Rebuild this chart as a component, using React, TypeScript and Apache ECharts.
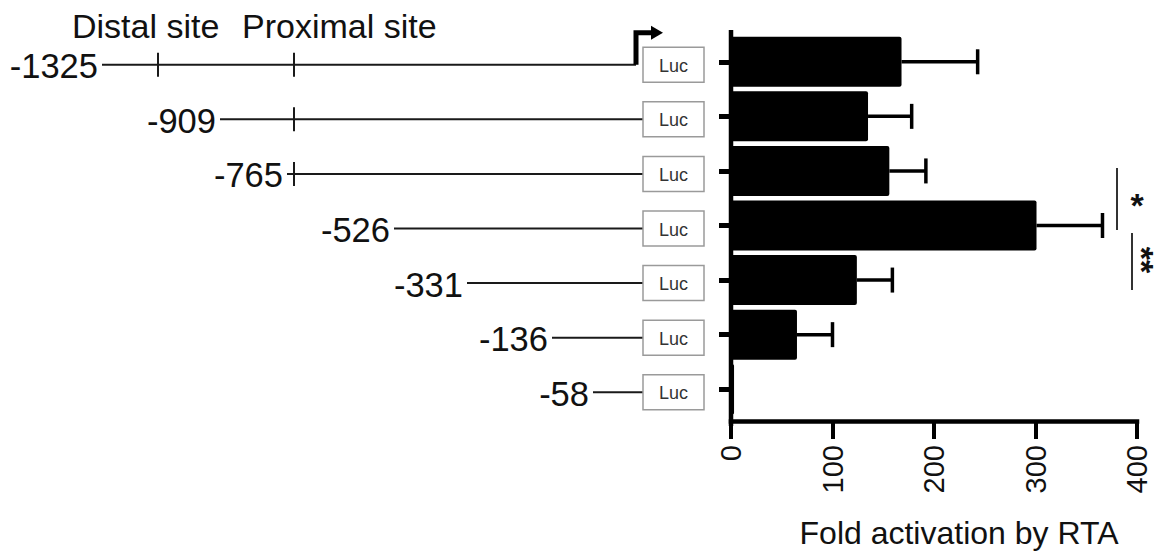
import React, { useEffect, useRef } from "react";
import * as echarts from "echarts";

// ---- data ----
const constructs = ["-1325", "-909", "-765", "-526", "-331", "-136", "-58"];
const foldActivation = [168, 135, 156, 301, 124, 65, 3];
const foldError = [75, 43, 36, 65, 35, 35, 0];
const xTickValues = [0, 100, 200, 300, 400];
const hasDistalSite = [true, false, false, false, false, false, false];
const hasProximalSite = [true, true, true, false, false, false, false];
const siteLabels = ["Distal site", "Proximal site"];
const reporterLabel = "Luc";
const axisTitle = "Fold activation by RTA";
const sigMarks = ["*", "**"];

// ---- layout (not data) ----
const FONT = '"Liberation Sans", Arial, Helvetica, sans-serif';
const AXIS_X0 = 731;
const AXIS_X1 = 1137;
const GRID_TOP = 34.5;
const GRID_H = 385;
const lineStartX = [102, 220, 287, 394, 467, 552, 593];
const LUC_X = 643;
const LUC_W = 61;
const LUC_H = 35;
const DISTAL_X = 158;
const PROXIMAL_X = 294;
const ROW_DY = 3;

export default function App() {
  const ref = useRef<HTMLDivElement>(null);

  useEffect(() => {
    document.body.style.margin = "0";
    const chart = echarts.init(ref.current!, null, { renderer: "svg" });

    const diagramRender = (params: any, api: any) => {
      const i = params.dataIndex;
      const y = api.coord([0, i])[1] + ROW_DY;
      const x0 = lineStartX[i];
      const children: any[] = [];
      children.push({
        type: "text",
        x: x0 - 4,
        y: y + 1.5,
        style: {
          text: constructs[i],
          fontSize: 34.5,
          fontFamily: FONT,
          fill: "#111",
          align: "right",
          verticalAlign: "middle",
        },
      });
      children.push({
        type: "line",
        shape: { x1: x0, y1: y, x2: i === 0 ? 636 : LUC_X, y2: y },
        style: { stroke: "#1a1a1a", lineWidth: 2 },
      });
      if (hasDistalSite[i]) {
        children.push({
          type: "line",
          shape: { x1: DISTAL_X, y1: y - 12, x2: DISTAL_X, y2: y + 12 },
          style: { stroke: "#1a1a1a", lineWidth: 2 },
        });
      }
      if (hasProximalSite[i]) {
        children.push({
          type: "line",
          shape: { x1: PROXIMAL_X, y1: y - 12, x2: PROXIMAL_X, y2: y + 12 },
          style: { stroke: "#1a1a1a", lineWidth: 2 },
        });
      }
      children.push({
        type: "rect",
        shape: { x: LUC_X, y: y - LUC_H / 2, width: LUC_W, height: LUC_H },
        style: { fill: "#fff", stroke: "#9a9a9a", lineWidth: 1.5 },
      });
      children.push({
        type: "text",
        x: LUC_X + LUC_W / 2,
        y: y + 1,
        style: {
          text: reporterLabel,
          fontSize: 18,
          fontFamily: FONT,
          fill: "#333",
          align: "center",
          verticalAlign: "middle",
        },
      });
      if (i === 0) {
        children.push({
          type: "polyline",
          shape: { points: [[636, y], [636, y - 32], [654, y - 32]] },
          style: { stroke: "#000", lineWidth: 5, fill: null },
        });
        children.push({
          type: "polygon",
          shape: { points: [[651, y - 39], [663, y - 32], [651, y - 25]] },
          style: { fill: "#000" },
        });
      }
      return { type: "group", children };
    };

    const errorRender = (params: any, api: any) => {
      const v = api.value(0);
      const i = api.value(1);
      const e = api.value(2);
      if (!e) return { type: "group", children: [] };
      const p0 = api.coord([v, i]);
      const p1 = api.coord([v + e, i]);
      return {
        type: "group",
        children: [
          {
            type: "line",
            shape: { x1: p0[0], y1: p0[1], x2: p1[0], y2: p1[1] },
            style: { stroke: "#000", lineWidth: 3.5 },
          },
          {
            type: "line",
            shape: { x1: p1[0], y1: p1[1] - 12.5, x2: p1[0], y2: p1[1] + 12.5 },
            style: { stroke: "#000", lineWidth: 3.5 },
          },
        ],
      };
    };

    const siteText = (x: number, text: string) => ({
      type: "text",
      x,
      y: 26,
      style: {
        text,
        fontSize: 34,
        fontFamily: FONT,
        fill: "#111",
        align: "left",
        verticalAlign: "middle",
      },
    });

    const starText = (x: number, y: number, text: string, rotation: number) => ({
      type: "text",
      x,
      y,
      rotation,
      style: {
        text,
        fontSize: 34,
        fontWeight: "bold",
        fontFamily: FONT,
        fill: "#111",
        align: "center",
        verticalAlign: "middle",
      },
    });

    const option: any = {
      animation: false,
      backgroundColor: "#fff",
      grid: {
        left: AXIS_X0,
        top: GRID_TOP,
        width: AXIS_X1 - AXIS_X0,
        height: GRID_H,
        containLabel: false,
      },
      xAxis: {
        type: "value",
        min: xTickValues[0],
        max: xTickValues[xTickValues.length - 1],
        interval: xTickValues[1] - xTickValues[0],
        offset: 4.5,
        axisLine: { show: true, lineStyle: { color: "#000", width: 4.5, cap: "square" } },
        axisTick: { show: true, length: 18, lineStyle: { color: "#000", width: 4 } },
        axisLabel: {
          rotate: 90,
          margin: 24,
          fontSize: 29,
          color: "#111",
          fontFamily: FONT,
        },
        splitLine: { show: false },
        name: axisTitle,
        nameLocation: "middle",
        nameGap: 96,
        nameTextStyle: {
          fontSize: 32,
          color: "#111",
          fontFamily: FONT,
          padding: [0, 0, 0, 50],
        },
      },
      yAxis: {
        type: "category",
        data: constructs,
        inverse: true,
        axisLine: { show: false },
        axisTick: {
          show: true,
          alignWithLabel: true,
          length: 12,
          lineStyle: { color: "#000", width: 5 },
        },
        axisLabel: { show: false },
        splitLine: { show: false },
      },
      graphic: [
        {
          type: "line",
          shape: { x1: AXIS_X0, y1: 30, x2: AXIS_X0, y2: 426 },
          style: { stroke: "#000", lineWidth: 4.5 },
        },
        siteText(72, siteLabels[0]),
        siteText(242, siteLabels[1]),
        {
          type: "line",
          shape: { x1: 1117, y1: 168, x2: 1117, y2: 230 },
          style: { stroke: "#333", lineWidth: 2 },
        },
        {
          type: "line",
          shape: { x1: 1132, y1: 233, x2: 1132, y2: 290 },
          style: { stroke: "#333", lineWidth: 2 },
        },
        starText(1137, 205, sigMarks[0], 0),
        starText(1142, 260, sigMarks[1], -Math.PI / 2),
      ],
      series: [
        {
          type: "bar",
          data: foldActivation,
          barWidth: 50,
          itemStyle: { color: "#000", borderRadius: 2 },
          z: 2,
        },
        {
          type: "custom",
          data: foldActivation.map((v, i) => [v, i, foldError[i]]),
          encode: { x: 0, y: 1 },
          renderItem: errorRender,
          z: 3,
        },
        {
          type: "custom",
          data: constructs.map((_, i) => [0, i]),
          encode: { x: 0, y: 1 },
          renderItem: diagramRender,
          clip: false,
          z: 1,
        },
      ],
    };

    chart.setOption(option);
    return () => chart.dispose();
  }, []);

  return (
    <div
      ref={ref}
      style={{ position: "absolute", left: 0, top: 0, width: 1163, height: 554 }}
    />
  );
}
